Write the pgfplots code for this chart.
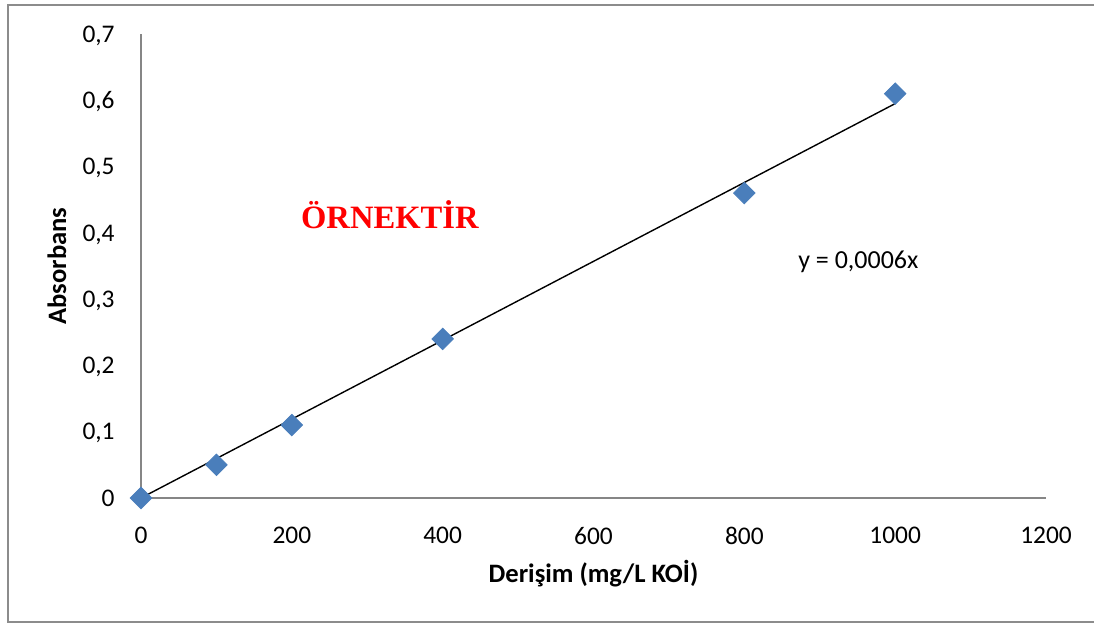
\documentclass[border=0pt]{standalone}
\usepackage{fontspec}
\setmainfont{Carlito}
\newfontfamily\timesf{Liberation Serif}
\usepackage{pgfplots}
\pgfplotsset{compat=1.18}
\definecolor{mk}{HTML}{4A7EBB}
\definecolor{ax}{HTML}{868686}
\definecolor{fr}{HTML}{8C8C8C}
\begin{document}
\begin{tikzpicture}
\useasboundingbox (0,0) rectangle (547pt,312.5pt);
\draw[fr, line width=0.9pt] (547.5pt,310pt) -- (4pt,310pt) -- (4pt,1.5pt) -- (547.5pt,1.5pt);
\begin{axis}[
  at={(70.5pt,63.5pt)}, anchor=south west,
  scale only axis, width=452.5pt, height=232pt,
  xmin=0, xmax=1200, ymin=0, ymax=0.7,
  axis lines=left,
  axis line style={ax, line width=0.7pt, -},
  xtick={0,200,400,600,800,1000,1200},
  ytick={0,0.1,0.2,0.3,0.4,0.5,0.6,0.7},
  major tick length=0pt,
  clip=false,
  /pgf/number format/assume math mode=true,
  tick label style={font=\fontsize{12.7}{14}\selectfont},
  xticklabel style={anchor=north, inner sep=0pt, yshift=-14.5pt, /pgf/number format/1000 sep={}},
  yticklabel style={anchor=east, inner sep=0pt, text depth=0pt, xshift=-13pt,
    /pgf/number format/.cd, fixed, precision=1, use comma},
  xlabel={Derişim (mg/L KOİ)},
  ylabel={Absorbans},
  label style={font=\fontsize{13.3}{15}\selectfont\bfseries},
  xlabel style={at={([yshift=-38pt]axis description cs:0.5,0)}, anchor=center},
  ylabel style={at={([xshift=-42pt]axis description cs:0,0.5)}, anchor=center},
]
\addplot[only marks, mark=square*, mark size=3.8pt, mark options={rotate=45, fill=mk, draw=mk}]
  coordinates {(0,0) (100,0.05) (200,0.11) (400,0.24) (800,0.46) (1000,0.61)};
\addplot[black, line width=0.7pt] coordinates {(0,0) (1000,0.595)};
\node[font=\timesf\fontsize{16.3}{18}\selectfont\bfseries, text=red] at (axis cs:330,0.428) {ÖRNEKTİR};
\node[font=\fontsize{13}{15}\selectfont, anchor=west, inner sep=0pt] at (axis cs:871,0.356) {y = 0,0006x};
\end{axis}
\end{tikzpicture}
\end{document}
